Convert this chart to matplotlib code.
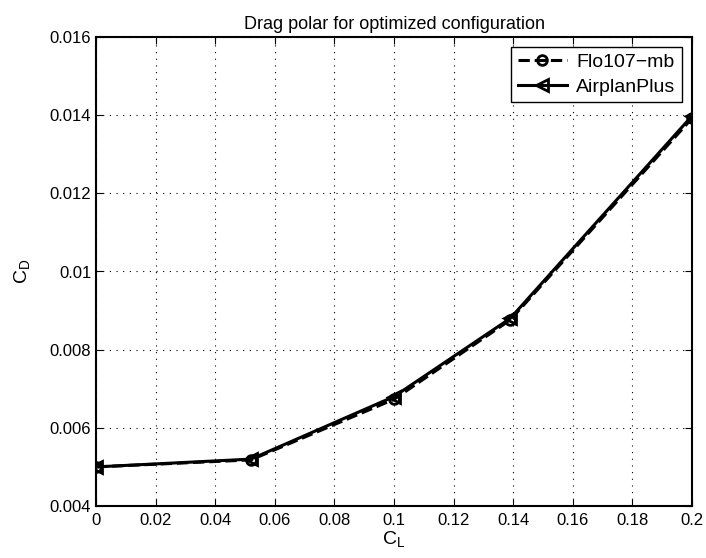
import matplotlib
matplotlib.use("Agg")
import matplotlib.pyplot as plt

plt.rcParams['font.family'] = ['Liberation Sans', 'DejaVu Sans']
plt.rcParams['mathtext.fontset'] = 'custom'
plt.rcParams['mathtext.rm'] = 'Liberation Sans'

cl = [0.0, 0.052, 0.1, 0.139, 0.2]
cd_flo = [0.00500, 0.00518, 0.00673, 0.00876, 0.01392]
cd_airplan = [0.00500, 0.00520, 0.00680, 0.00880, 0.01398]

fig = plt.figure(figsize=(7.06, 5.58), dpi=100)
ax = fig.add_axes([96/706, 1 - 506/558, 596/706, 469/558])

ax.plot(cl, cd_flo, 'k--', marker='o', mfc='none', mec='k', ms=7, mew=2,
        lw=2.2, label='Flo107\u2212mb')
ax.plot(cl, cd_airplan, 'k-', marker='<', mfc='none', mec='k', ms=8.5, mew=2,
        lw=2.2, label='AirplanPlus')

ax.set_xlim(0, 0.2)
ax.set_ylim(0.004, 0.016)
ax.set_xticks([0, 0.02, 0.04, 0.06, 0.08, 0.1, 0.12, 0.14, 0.16, 0.18, 0.2])
ax.set_xticklabels(['0', '0.02', '0.04', '0.06', '0.08', '0.1', '0.12', '0.14', '0.16', '0.18', '0.2'])
ax.set_yticks([0.004, 0.006, 0.008, 0.01, 0.012, 0.014, 0.016])
ax.set_yticklabels(['0.004', '0.006', '0.008', '0.01', '0.012', '0.014', '0.016'])
ax.tick_params(direction='in', top=True, right=True, labelsize=12, length=5)
ax.tick_params(axis='x', pad=5)
ax.grid(True, linestyle=(0, (1, 5)), color='k', lw=0.8)
for s in ax.spines.values():
    s.set_linewidth(1.5)

ax.set_title('Drag polar for optimized configuration', fontsize=13, pad=6)
ax.set_xlabel(r'C$_\mathrm{L}$', fontsize=14, labelpad=1)
ax.set_ylabel(r'C$_\mathrm{D}$', fontsize=14, labelpad=12)

leg = ax.legend(loc='upper right', fontsize=14, fancybox=False, framealpha=1,
                edgecolor='k', handlelength=2.5, borderaxespad=0.5,
                borderpad=0.35, labelspacing=0.35, handletextpad=0.5)
leg.get_frame().set_linewidth(1.0)

fig.savefig('out.png', dpi=100)
